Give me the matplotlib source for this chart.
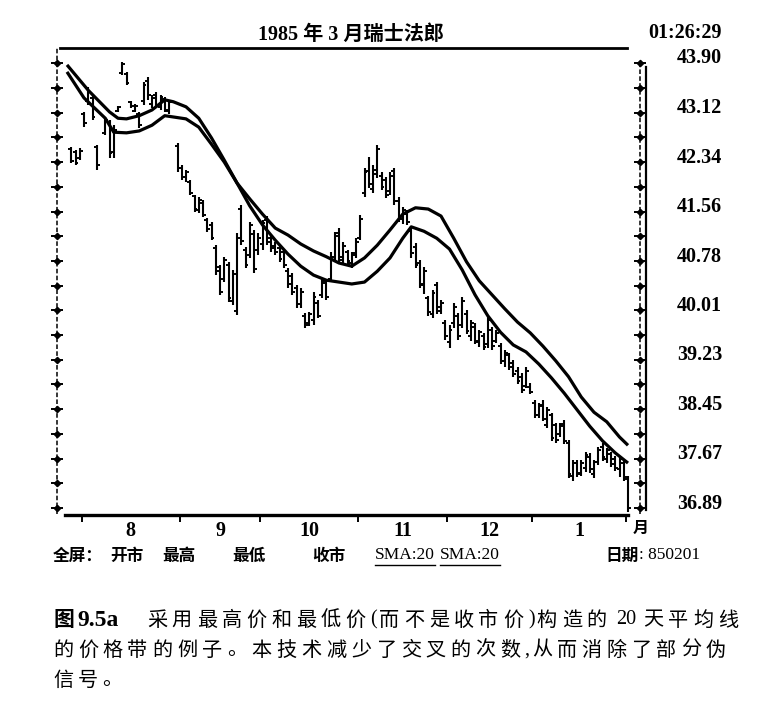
import matplotlib
matplotlib.use("Agg")
import matplotlib.pyplot as plt
import numpy as np
from matplotlib.lines import Line2D
from matplotlib.transforms import IdentityTransform, ScaledTranslation

W, H = 783, 721
SERIF = ["Liberation Serif", "Noto Sans CJK SC", "DejaVu Sans"]
CJK = ["Noto Sans CJK SC", "Liberation Serif", "DejaVu Sans"]
plt.rcParams["font.family"] = SERIF

# ---- texts
title = "1985 年 3 月瑞士法郎"
clock = "01:26:29"
legend_items = ["开市", "最高", "最低", "收市"]
sma_items = ["SMA:20", "SMA:20"]
date_label = "日期"
date_value = "850201"
caption_fig = "图"
caption_num = "9.5a"
caption_1 = "采用最高价和最低价(而不是收市价)构造的 20 天平均线"
caption_2 = "的价格带的例子。本技术减少了交叉的次数,从而消除了部分伪"
caption_3 = "信号。"

# ---- axes scales
y_ticks = [43.90, 43.12, 42.34, 41.56, 40.78, 40.01, 39.23, 38.45, 37.67, 36.89]
month_starts = [3.5, 26.5, 45.5, 68.5, 89.5, 109.5, 131.5]   # trading-day index
month_labels = ["8", "9", "10", "11", "12", "1"]

# ---- daily bars (trading-day index, Jul 26 1984 = 0, Feb 1 1985 = 132)
bar_day = [1, 2, 3, 4, 5, 6, 7, 9, 10, 11, 12, 13, 14, 15, 16, 17, 18, 19, 20, 21, 22, 23, 24] + list(range(26, 133))
bar_high = [42.58, 42.53, 42.56, 43.13, 43.52, 43.40, 42.61, 43.03, 43.00, 42.92, 43.22, 43.92, 43.76,
            43.30, 43.25, 43.13, 43.60, 43.68, 43.40, 43.44, 43.40, 43.36, 43.32,
            42.64, 42.29, 42.21, 42.06, 41.82, 41.79, 41.74, 41.46, 41.40, 41.03, 40.72, 40.85, 40.77, 40.64,
            41.22, 41.66, 41.00, 41.40, 41.27, 41.22, 41.43, 41.49, 41.19, 41.08, 41.02, 40.96, 40.67, 40.59,
            40.40, 40.36, 39.96, 39.98, 40.29, 40.17, 40.51, 40.48, 40.92, 41.24, 41.30, 41.08, 40.96, 40.92,
            41.14, 41.51, 42.25, 42.42, 42.29, 42.61, 42.18, 42.10, 42.18, 42.25, 41.79, 41.63, 41.58, 41.30,
            41.07, 40.80, 40.69, 40.23, 40.33, 40.45, 40.17, 39.85, 39.77, 40.12, 39.96, 40.22, 40.01, 39.85,
            39.81, 39.70, 39.65, 39.90, 39.74, 39.70, 39.49, 39.38, 39.33, 39.22, 39.11, 39.02, 39.11, 38.86,
            38.59, 38.55, 38.59, 38.48, 38.39, 38.23, 38.23, 38.28, 37.96, 37.65, 37.65, 37.65, 37.77, 37.76,
            37.65, 37.85, 37.92, 37.84, 37.77, 37.71, 37.70, 37.65, 37.40]
bar_low = [42.33, 42.29, 42.37, 42.89, 43.24, 43.00, 42.21, 42.77, 42.40, 42.40, 43.13, 43.71, 43.55,
           43.19, 43.13, 42.88, 43.24, 43.32, 43.19, 43.19, 43.16, 43.13, 43.10,
           42.18, 42.06, 42.03, 41.82, 41.55, 41.54, 41.47, 41.24, 41.11, 40.56, 40.25, 40.45, 40.14, 40.09,
           39.93, 41.03, 40.67, 40.83, 40.59, 40.88, 40.96, 41.03, 40.92, 40.88, 40.77, 40.67, 40.36, 40.25,
           40.04, 40.04, 39.73, 39.76, 39.77, 39.88, 40.20, 40.17, 40.45, 40.77, 40.77, 40.75, 40.72, 40.67,
           40.83, 41.11, 41.79, 41.93, 41.85, 42.09, 41.90, 41.77, 41.82, 41.66, 41.40, 41.36, 41.35, 40.83,
           40.67, 40.36, 40.26, 39.92, 39.88, 39.95, 39.95, 39.54, 39.41, 39.73, 39.54, 39.73, 39.63, 39.52,
           39.47, 39.43, 39.38, 39.41, 39.38, 39.49, 39.16, 39.11, 39.07, 38.96, 38.85, 38.70, 38.78, 38.69,
           38.31, 38.31, 38.26, 38.15, 37.95, 37.92, 38.01, 37.90, 37.36, 37.32, 37.38, 37.40, 37.46, 37.44,
           37.36, 37.57, 37.63, 37.60, 37.54, 37.47, 37.38, 37.32, 36.83]
bar_open = [42.55, 42.50, 42.40, 43.10, 43.30, 43.35, 42.58, 42.80, 42.95, 42.50, 43.15, 43.75, 43.72,
            43.28, 43.15, 43.10, 43.30, 43.62, 43.25, 43.40, 43.20, 43.33, 43.15,
            42.60, 42.25, 42.10, 42.02, 41.80, 41.58, 41.70, 41.42, 41.35, 40.98, 40.68, 40.50, 40.72, 40.15,
            40.00, 41.60, 40.95, 40.88, 41.20, 40.95, 41.05, 41.42, 41.15, 41.02, 40.98, 40.92, 40.62, 40.55,
            40.36, 40.10, 39.92, 39.80, 39.85, 40.12, 40.25, 40.44, 40.50, 40.85, 41.22, 40.80, 40.92, 40.75,
            40.90, 41.15, 41.85, 42.20, 41.92, 42.15, 42.12, 42.05, 41.88, 42.20, 41.72, 41.45, 41.52, 41.25,
            41.00, 40.75, 40.40, 40.20, 39.95, 40.40, 40.05, 39.80, 39.50, 39.80, 39.92, 39.78, 39.95, 39.60,
            39.75, 39.50, 39.60, 39.48, 39.70, 39.52, 39.45, 39.20, 39.30, 39.18, 39.05, 38.95, 38.82, 38.80,
            38.55, 38.36, 38.52, 38.20, 38.35, 38.20, 38.05, 38.22, 37.92, 37.40, 37.60, 37.45, 37.52, 37.70,
            37.42, 37.62, 37.86, 37.66, 37.74, 37.66, 37.50, 37.60, 37.35]
bar_close = [42.36, 42.32, 42.52, 42.95, 43.45, 43.05, 42.30, 43.00, 42.48, 42.85, 43.20, 43.88, 43.58,
             43.22, 43.22, 42.92, 43.55, 43.40, 43.35, 43.22, 43.36, 43.16, 43.28,
             42.25, 42.10, 42.18, 41.86, 41.60, 41.74, 41.50, 41.28, 41.15, 40.62, 40.30, 40.80, 40.20, 40.58,
             41.15, 41.10, 40.72, 41.35, 40.65, 41.15, 41.38, 41.08, 40.98, 40.92, 40.82, 40.72, 40.42, 40.30,
             40.10, 40.30, 39.78, 39.94, 40.22, 39.92, 40.46, 40.22, 40.85, 41.18, 40.85, 41.02, 40.78, 40.88,
             41.08, 41.45, 42.18, 42.00, 42.22, 42.55, 41.95, 41.82, 42.12, 41.72, 41.46, 41.58, 41.40, 40.90,
             40.72, 40.42, 40.62, 39.98, 40.28, 40.00, 40.12, 39.60, 39.70, 40.05, 39.60, 40.15, 39.68, 39.80,
             39.52, 39.66, 39.42, 39.85, 39.45, 39.65, 39.20, 39.34, 39.12, 39.00, 38.90, 38.75, 39.05, 38.72,
             38.36, 38.50, 38.30, 38.44, 38.00, 37.96, 38.18, 37.94, 37.42, 37.60, 37.42, 37.60, 37.72, 37.50,
             37.62, 37.80, 37.70, 37.80, 37.58, 37.52, 37.66, 37.38, 36.90]

# ---- 20-day moving averages of the highs and of the lows
sma_hi_day = [0, 5, 10, 12, 14, 17, 20, 23, 25, 28, 31, 34, 37, 40, 43, 46, 49, 52, 55, 58, 61, 64, 67,
              70, 73, 76, 79, 82, 85, 88, 91, 94, 97, 100, 103, 106, 109, 112, 115, 118, 121, 124, 127, 130, 132]
sma_hi = [43.87, 43.47, 43.13, 43.03, 43.02, 43.07, 43.16, 43.32, 43.29, 43.21, 43.03, 42.72, 42.37, 42.01,
          41.76, 41.52, 41.30, 41.19, 41.05, 40.94, 40.85, 40.75, 40.70, 40.83, 41.03, 41.27, 41.52, 41.62,
          41.60, 41.49, 41.14, 40.77, 40.47, 40.25, 40.03, 39.82, 39.65, 39.44, 39.21, 38.96, 38.64, 38.40,
          38.25, 38.01, 37.88]
sma_lo_day = [0, 4, 9, 11, 14, 17, 20, 23, 25, 28, 31, 34, 37, 40, 43, 46, 49, 52, 55, 58, 61, 64, 67,
              70, 73, 76, 79, 81, 84, 87, 90, 93, 96, 99, 102, 105, 108, 111, 114, 117, 120, 123, 126, 129, 132]
sma_lo = [43.76, 43.35, 43.03, 42.81, 42.80, 42.83, 42.92, 43.07, 43.05, 43.02, 42.89, 42.62, 42.34, 42.01,
          41.65, 41.35, 41.11, 40.89, 40.70, 40.56, 40.48, 40.45, 40.42, 40.45, 40.62, 40.83, 41.14, 41.32,
          41.25, 41.14, 40.97, 40.64, 40.25, 39.92, 39.66, 39.46, 39.35, 39.16, 38.94, 38.70, 38.44, 38.18,
          37.95, 37.76, 37.60]


def fx(px):
    return px / W


def fy(py):
    return 1 - py / H


fig = plt.figure(figsize=(W / 100, H / 100), dpi=100)
fig.patch.set_facecolor("white")
ax = fig.add_axes([fx(57), fy(515), 593 / W, 467 / H])
ax.set_xlim(-10 / 4.25, 583 / 4.25)
ax.set_ylim(36.782, 44.136)
for s in ax.spines.values():
    s.set_visible(False)

# bars
days = np.array(bar_day, dtype=float)
ax.vlines(days, bar_low, bar_high, color="black", lw=1.5)
ax.hlines(bar_open, days - 0.65, days, color="black", lw=1.4)
ax.hlines(bar_close, days, days + 0.65, color="black", lw=1.4)

# moving average band
ax.plot(sma_hi_day, sma_hi, color="black", lw=2.3, solid_capstyle="butt")
ax.plot(sma_lo_day, sma_lo, color="black", lw=2.3, solid_capstyle="butt")

# frame pieces
ax.plot([0.005, 0.961], [1, 1], transform=ax.transAxes, color="black", lw=2.0, clip_on=False)
ax.plot([0.0135, 0.963], [0, 0], transform=ax.transAxes, color="black", lw=2.4, clip_on=False)

yt = np.array(y_ticks)
all_ticks = np.sort(np.concatenate([yt, (yt[:-1] + yt[1:]) / 2]))
ytr = ax.get_yaxis_transform()
for xa, top in [(0.0, 44.136), (0.983, 43.92)]:
    ax.plot([xa, xa], [36.80, top], transform=ytr, color="black", lw=1.1,
            ls=(0, (3, 1.5)), clip_on=False)
    ax.plot([xa] * len(all_ticks), all_ticks, transform=ytr, ls="none", marker="D",
            ms=3.2, color="black", clip_on=False)
    ax.plot([xa] * len(all_ticks), all_ticks, transform=ytr, ls="none", marker="_",
            ms=8, mew=1.4, color="black", clip_on=False)
ax.plot([0.9933, 0.9933], [36.86, 43.84], transform=ytr, color="black", lw=1.6, clip_on=False)

# right price scale, labels sit a little above their ticks
ax.yaxis.tick_right()
ax.set_yticks(y_ticks, labels=[f"{v:.2f}" for v in y_ticks])
ax.tick_params(axis="y", length=0, pad=19.4, labelsize=14.5)
lift = ScaledTranslation(0, 7 / 100, fig.dpi_scale_trans)
for lab in ax.get_yticklabels():
    lab.set_fontweight("bold")
    lab.set_transform(lab.get_transform() + lift)

# month scale
ms = np.array(month_starts)
ax.set_xticks(ms, labels=[""] * len(ms))
ax.set_xticks((ms[:-1] + ms[1:]) / 2, labels=month_labels, minor=True)
ax.tick_params(axis="x", which="major", direction="out", length=5, width=1.4)
ax.tick_params(axis="x", which="minor", length=0, pad=4.5, labelsize=14.5)
for lab in ax.get_xticklabels(minor=True):
    lab.set_fontweight("bold")
ax.text(135, -0.028, "月", transform=ax.get_xaxis_transform(), ha="center", va="center",
        fontsize=11.5, weight="bold", family=CJK)

# header
fig.text(fx(351), fy(35), title, ha="center", va="center", fontsize=14.5, weight="bold", family=SERIF)
fig.text(fx(722), fy(33), clock, ha="right", va="center", fontsize=14.5, weight="bold", family=SERIF)

# status line
row_y = 556
fig.text(fx(53), fy(row_y), "全屏：", ha="left", va="center", fontsize=12, weight="bold", family=CJK)
for x0, s in zip([110, 162, 232, 312], legend_items):
    fig.text(fx(x0), fy(row_y), s, ha="left", va="center", fontsize=12, weight="bold", family=CJK)
fig.canvas.draw()
renderer = fig.canvas.get_renderer()
for x0, s in zip([375, 440], sma_items):
    t = fig.text(fx(x0), fy(row_y - 1), s, ha="left", va="center", fontsize=12.5, family=SERIF)
    bb = t.get_window_extent(renderer)
    fig.add_artist(Line2D([bb.x0, bb.x1], [bb.y0 - 1.5, bb.y0 - 1.5], transform=IdentityTransform(),
                          color="black", lw=1.0))
fig.text(fx(605), fy(row_y), date_label, ha="left", va="center", fontsize=12, weight="bold", family=CJK)
fig.text(fx(639), fy(row_y - 1), ": " + date_value, ha="left", va="center", fontsize=12.5, family=SERIF)


def tokens(text):
    out, i = [], 0
    while i < len(text):
        ch = text[i]
        if ch == " ":
            out.append(None)
            i += 1
        elif ch.isascii() and (ch.isalnum() or ch == "."):
            j = i
            while j < len(text) and text[j].isascii() and (text[j].isalnum() or text[j] == "."):
                j += 1
            out.append(text[i:j])
            i = j
        else:
            out.append(ch)
            i += 1
    return out


def spaced_line(x, y, text, size, gap, weight="normal"):
    for tok in tokens(text):
        if tok is None:
            x += size * 100 / 72 * 0.25
            continue
        fam = SERIF if tok.isascii() else CJK
        t = fig.text(fx(x), fy(y), tok, ha="left", va="center", fontsize=size, weight=weight, family=fam)
        x += t.get_window_extent(renderer).width + (2 if tok.isascii() else gap)
    return x


cap_size, cap_gap = 14.5, 4.7
spaced_line(53, 620, caption_fig, 15, cap_gap, weight="bold")
spaced_line(77, 620, caption_num, 17, cap_gap, weight="bold")
spaced_line(147, 620, caption_1, cap_size, cap_gap, weight="medium")
spaced_line(53, 650, caption_2, cap_size, cap_gap, weight="medium")
spaced_line(53, 680, caption_3, cap_size, cap_gap, weight="medium")

fig.savefig("out.png", dpi=100, facecolor="white")
